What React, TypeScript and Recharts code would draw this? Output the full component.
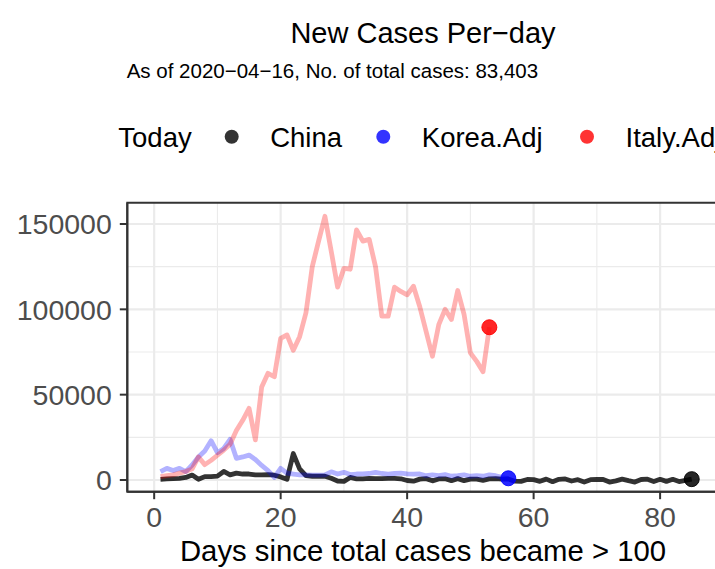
import React from 'react';
import { LineChart, Line, XAxis, YAxis, CartesianGrid, ReferenceArea } from 'recharts';

// new cases per day, day 1 = first day with > 100 total cases
const china = [
  400, 600, 800, 1000, 1500, 2900, 400, 2000, 2000, 2300,
  5000, 3000, 4000, 3500, 3500, 3000, 3000, 3200, 2800, 1800,
  400, 15500, 6500, 2500, 2200, 2200, 2200, 1000, -600, -800,
  1500, 700, 700, 900, 800, 800, 900, 900, 700, -300,
  -700, 500, 800, -500, 600, 700, -400, 800, -400, 500,
  500, -200, 600, 800, 500, 600, -700, -800, 300, 200,
  -800, 500, -1000, 400, 600, -600, 200, -1200, 200, 400,
  300, -1200, -500, 500, -400, -1200, 300, 500, -900, 400,
  -800, 400, -900, -200, 500,
];

const korea = [
  4900, 6800, 5500, 6800, 4900, 8800, 13500, 17000, 23000, 16000,
  18500, 23800, 12700, 13500, 14600, 12000, 8500, 5500, 1500, 6800,
  4000, 3500, 3000, 3000, 2800, 2800, 3000, 4800, 3500, 4500,
  3200, 3500, 3600, 3800, 4500, 3800, 3500, 3800, 4000, 3600,
  3400, 3500, 2500, 3000, 2600, 3200, 2200, 2500, 3000, 2200,
  2500, 2200, 3000, 2500, 1500, 1000,
];

const italy = [
  2000, 2500, 3000, 4000, 5000, 6500, 13500, 9000, 11500, 14500,
  17500, 21000, 29000, 35000, 42000, 23500, 54500, 62500, 60500, 83000,
  85000, 76000, 84000, 98000, 125000, 140000, 154500, 134000, 113000, 124000,
  123500, 146500, 140000, 141000, 125000, 96000, 96000, 113000, 110500, 108500,
  113500, 101500, 87000, 72500, 91000, 100000, 94000, 111000, 97000, 74500,
  69500, 63500, 89500,
];

const xTicks = [0, 20, 40, 60, 80];
const xMinor = [10, 30, 50, 70];
const yTicks = [0, 50000, 100000, 150000];
const yMinor = [25000, 75000, 125000];

const series = [
  { name: 'China', values: china, color: '#000000', alpha: 0.8 },
  { name: 'Korea.Adj', values: korea, color: '#0000ff', alpha: 0.3 },
  { name: 'Italy.Adj', values: italy, color: '#ff0000', alpha: 0.3 },
];

const FONT = '"Liberation Sans", Arial, Helvetica, sans-serif';
const W = 760;
const H = 569;
const xDomain = [-4.25, 89.25];
const yDomain = [-6860, 162480];

const toRows = (values: number[]) => values.map((v, i) => ({ day: i + 1, value: v }));

const endDot = (color: string, last: number) => (props: any) => {
  const { cx, cy, index } = props;
  if (index !== last) return <g key={`d${index}`} />;
  return (
    <circle key={`d${index}`} cx={cx} cy={cy} r={7.5} fill={color} fillOpacity={0.85}
      stroke={color} strokeOpacity={0.9} strokeWidth={1} />
  );
};

const YTick = (props: any) => (
  <text x={props.x} y={props.y} dy="0.36em" textAnchor="end" fontSize={28.5} fill="#4d4d4d" fontFamily={FONT}>
    {props.payload.value}
  </text>
);

const XTick = (props: any) => (
  <text x={props.x} y={props.y} dy={28} textAnchor="middle" fontSize={28.5} fill="#4d4d4d" fontFamily={FONT}>
    {props.payload.value}
  </text>
);

const legendX = [231.7, 383.3, 587];

export default function App() {
  return (
    <div style={{ position: 'absolute', left: 0, top: 0, width: 715, height: 569, overflow: 'hidden', background: '#fff' }}>
      <LineChart width={W} height={H} margin={{ top: 202.7, right: 41.4, bottom: 0, left: 0 }}>
        <CartesianGrid stroke="#ebebeb" strokeWidth={1.1} horizontalValues={yMinor} verticalValues={xMinor} />
        <CartesianGrid stroke="#ebebeb" strokeWidth={2.2} horizontalValues={yTicks} verticalValues={xTicks} />
        <XAxis dataKey="day" type="number" domain={xDomain} allowDataOverflow ticks={xTicks}
          height={77.3} tickSize={7.5} tickMargin={0} tick={<XTick />}
          axisLine={{ stroke: '#333', strokeWidth: 2 }} tickLine={{ stroke: '#333', strokeWidth: 2 }} />
        <YAxis type="number" domain={yDomain} allowDataOverflow ticks={yTicks} width={127.3}
          tickSize={7.5} tickMargin={8} tick={<YTick />}
          axisLine={{ stroke: '#333', strokeWidth: 2 }} tickLine={{ stroke: '#333', strokeWidth: 2 }} />
        <ReferenceArea x1={xDomain[0]} x2={xDomain[1]} y1={yDomain[0]} y2={yDomain[1]} ifOverflow="visible"
          fill="none" fillOpacity={0} stroke="#333" strokeWidth={2} />
        {series.map((s) => (
          <Line key={s.name} data={toRows(s.values)} dataKey="value" name={s.name} type="linear"
            stroke={s.color} strokeOpacity={s.alpha} strokeWidth={4.8} strokeLinejoin="round"
            dot={endDot(s.color, s.values.length - 1)} activeDot={false} isAnimationActive={false} />
        ))}
      </LineChart>
      <svg width={715} height={569} style={{ position: 'absolute', left: 0, top: 0, pointerEvents: 'none' }}
        fontFamily={FONT}>
        <text x={423} y={43.3} textAnchor="middle" fontSize={29} fill="#000">New Cases Per−day</text>
        <text x={126.7} y={78.3} fontSize={20.5} fill="#000">As of 2020−04−16, No. of total cases: 83,403</text>
        <text x={118.3} y={146.7} fontSize={27.5} fill="#000">Today</text>
        {series.map((s, i) => (
          <g key={s.name}>
            <circle cx={legendX[i]} cy={136.7} r={7} fill={s.color} fillOpacity={0.8} />
            <text x={legendX[i] + 38.5} y={146.7} fontSize={27.5} fill="#000">{s.name}</text>
          </g>
        ))}
        <text x={423} y={561} textAnchor="middle" fontSize={29.3} fill="#000">Days since total cases became &gt; 100</text>
      </svg>
    </div>
  );
}
